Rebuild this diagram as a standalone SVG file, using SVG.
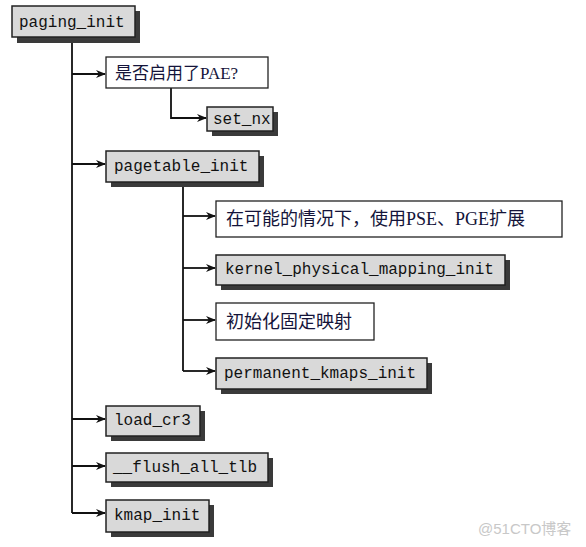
<svg xmlns="http://www.w3.org/2000/svg" width="586" height="547" viewBox="0 0 586 547">
<defs>
<marker id="arr" markerWidth="10" markerHeight="8" refX="9" refY="4" orient="auto" markerUnits="userSpaceOnUse">
<path d="M0,0 L10,4 L0,8 L3,4 Z" fill="#111"/>
</marker>
</defs>
<style>
.box{fill:#d9d9d9;stroke:#222;stroke-width:1.5}
.wbox{fill:#fff;stroke:#222;stroke-width:1.3}
.sh{fill:#3a3a3a}
.code{font-family:"Liberation Mono","DejaVu Sans Mono",monospace;font-size:16px;fill:#111}
.cn{font-family:"Liberation Serif","Noto Sans CJK SC",serif;font-size:17px;fill:#14143a}
.ln{fill:none;stroke:#111;stroke-width:1.8}
.wm{font-family:"Liberation Sans","Noto Sans CJK SC",sans-serif;font-size:15px;fill:#c8c8c8}
</style>
<rect width="586" height="547" fill="#fff"/>
<g id="connectors">
<path class="ln" d="M72,37 V513"/>
<path class="ln" d="M72,74 H105" marker-end="url(#arr)"/>
<path class="ln" d="M72,164 H105" marker-end="url(#arr)"/>
<path class="ln" d="M72,419 H105" marker-end="url(#arr)"/>
<path class="ln" d="M72,466 H105" marker-end="url(#arr)"/>
<path class="ln" d="M72,513 H105" marker-end="url(#arr)"/>
<path class="ln" d="M171,88 V118 H206" marker-end="url(#arr)"/>
<path class="ln" d="M183,182 V371"/>
<path class="ln" d="M183,216 H215" marker-end="url(#arr)"/>
<path class="ln" d="M183,268 H215" marker-end="url(#arr)"/>
<path class="ln" d="M183,320 H215" marker-end="url(#arr)"/>
<path class="ln" d="M183,371 H215" marker-end="url(#arr)"/>
</g>
<g id="paging_init">
<rect class="sh" x="17" y="11" width="123" height="32"/>
<rect class="box" x="12" y="6" width="123" height="31"/>
<text class="code" x="19" y="27">paging_init</text>
</g>
<g id="pae">
<rect class="wbox" x="106" y="57" width="162" height="31"/>
<text class="cn" x="115" y="79">是否启用了PAE?</text>
</g>
<g id="set_nx">
<rect class="sh" x="212" y="112" width="66" height="24"/>
<rect class="box" x="207" y="107" width="66" height="24"/>
<text class="code" x="213" y="124">set_nx</text>
</g>
<g id="pagetable_init">
<rect class="sh" x="111" y="156" width="153" height="31"/>
<rect class="box" x="106" y="151" width="153" height="31"/>
<text class="code" x="114" y="171">pagetable_init</text>
</g>
<g id="pse_pge">
<rect class="wbox" x="216" y="201" width="346" height="36"/>
<text class="cn" x="226" y="225" style="font-size:18px">在可能的情况下，使用PSE、PGE扩展</text>
</g>
<g id="kernel_physical_mapping_init">
<rect class="sh" x="221" y="260" width="289" height="30"/>
<rect class="box" x="216" y="255" width="289" height="30"/>
<text class="code" x="225" y="274">kernel_physical_mapping_init</text>
</g>
<g id="fixmap">
<rect class="wbox" x="216" y="303" width="158" height="37"/>
<text class="cn" x="226" y="328" style="font-size:18px">初始化固定映射</text>
</g>
<g id="permanent_kmaps_init">
<rect class="sh" x="221" y="363" width="211" height="31"/>
<rect class="box" x="216" y="358" width="211" height="31"/>
<text class="code" x="224" y="378">permanent_kmaps_init</text>
</g>
<g id="load_cr3">
<rect class="sh" x="111" y="411" width="94" height="30"/>
<rect class="box" x="106" y="406" width="94" height="30"/>
<text class="code" x="114" y="425">load_cr3</text>
</g>
<g id="flush_all_tlb">
<rect class="sh" x="111" y="458" width="162" height="29"/>
<rect class="box" x="106" y="453" width="162" height="29"/>
<text class="code" x="113" y="472">__flush_all_tlb</text>
</g>
<g id="kmap_init">
<rect class="sh" x="111" y="505" width="103" height="32"/>
<rect class="box" x="106" y="500" width="103" height="32"/>
<text class="code" x="114" y="520">kmap_init</text>
</g>
<text class="wm" x="478" y="534">@51CTO博客</text>
</svg>
